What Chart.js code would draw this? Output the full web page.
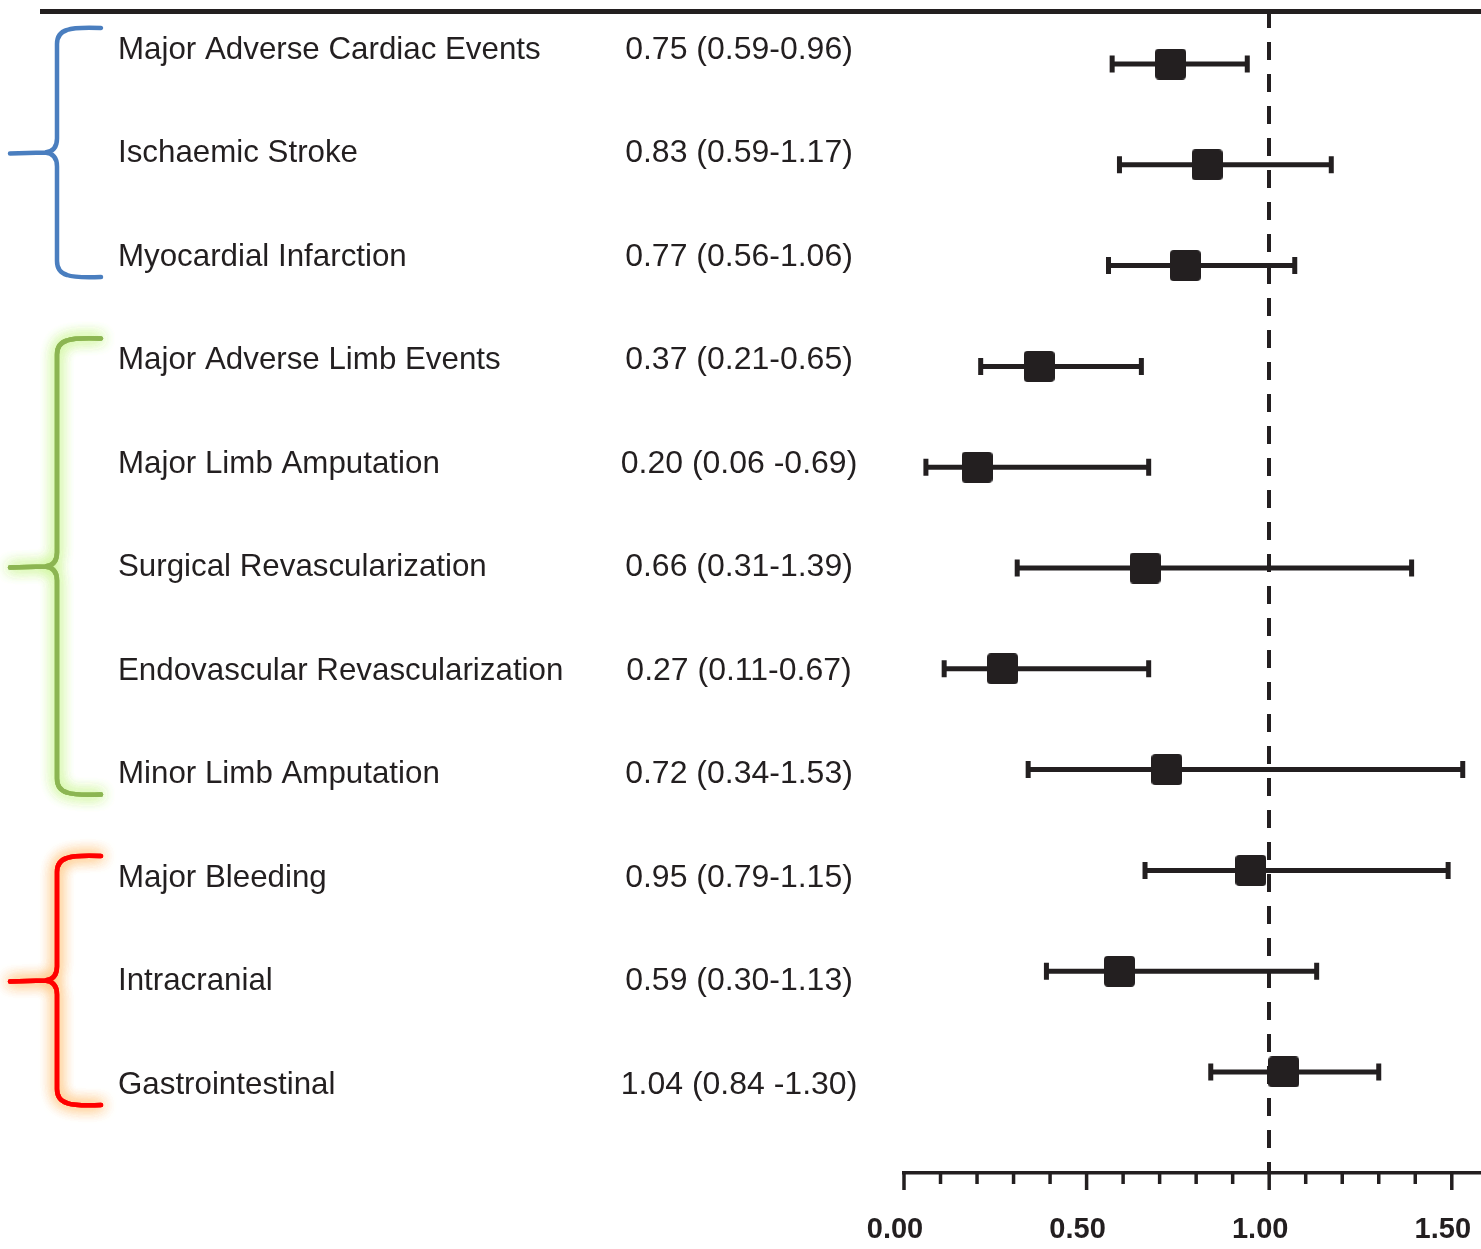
<!DOCTYPE html>
<html>
<head>
<meta charset="utf-8">
<script src="https://cdn.jsdelivr.net/npm/chart.js@4/dist/chart.umd.min.js"></script>
<style>
  html, body { margin: 0; padding: 0; background: #fff; overflow: hidden; }
  canvas { display: block; }
</style>
</head>
<body>
<canvas id="forest" width="1481" height="1249"></canvas>
<script>
"use strict";

// outcome rows, top to bottom
const OUTCOMES = [
  "Major Adverse Cardiac Events",
  "Ischaemic Stroke",
  "Myocardial Infarction",
  "Major Adverse Limb Events",
  "Major Limb Amputation",
  "Surgical Revascularization",
  "Endovascular Revascularization",
  "Minor Limb Amputation",
  "Major Bleeding",
  "Intracranial",
  "Gastrointestinal",
];
const HR_TEXT = [
  "0.75 (0.59-0.96)",
  "0.83 (0.59-1.17)",
  "0.77 (0.56-1.06)",
  "0.37 (0.21-0.65)",
  "0.20 (0.06 -0.69)",
  "0.66 (0.31-1.39)",
  "0.27 (0.11-0.67)",
  "0.72 (0.34-1.53)",
  "0.95 (0.79-1.15)",
  "0.59 (0.30-1.13)",
  "1.04 (0.84 -1.30)",
];
// plotted estimates and CI ends as drawn
const HR_EST = [0.73, 0.83, 0.77, 0.37, 0.20, 0.66, 0.27, 0.72, 0.95, 0.59, 1.04];
const CI_LOW = [0.57, 0.59, 0.56, 0.21, 0.06, 0.31, 0.11, 0.34, 0.66, 0.39, 0.84];
const CI_HIGH = [0.94, 1.17, 1.07, 0.65, 0.67, 1.39, 0.67, 1.53, 1.49, 1.13, 1.30];
const X_TICKS = [0, 0.1, 0.2, 0.3, 0.4, 0.5, 0.6, 0.7, 0.8, 0.9, 1.0, 1.1, 1.2, 1.3, 1.4, 1.5];
const X_LABELS = [0, 0.5, 1.0, 1.5];
const REF_LINE = 1.0;

// brace groups: [first row, last row]
const GROUPS = [
  { from: 0, to: 2,  color: "#4a7ebf", glow: null },
  { from: 3, to: 7,  color: "#8cb552", glow: "rgba(200,245,140,0.95)" },
  { from: 8, to: 10, color: "#ff0000", glow: "rgba(255,190,110,0.95)" },
];

const INK = "#231f20";
const FONT = "'Liberation Sans', Arial, Helvetica, sans-serif";

/* ── marker: small rounded square ─────────────────────────────── */
function roundedSquare(size, r) {
  const c = document.createElement("canvas");
  c.width = size; c.height = size;
  const g = c.getContext("2d");
  g.fillStyle = INK;
  g.beginPath();
  g.roundRect(0, 0, size, size, r);
  g.fill();
  return c;
}

/* ── brace drawn beside each outcome group ────────────────────── */
function drawBrace(ctx, top, bottom, color, glow) {
  const xr = 101, xv = 57, xt = 10;
  const mid = (top + bottom) / 2;
  ctx.save();
  ctx.strokeStyle = color;
  ctx.lineWidth = 4.5;
  ctx.lineCap = "round";
  ctx.lineJoin = "round";
  if (glow) { ctx.shadowColor = glow; ctx.shadowBlur = 14; }
  const path = () => {
    ctx.beginPath();
    ctx.moveTo(xr, top);
    ctx.quadraticCurveTo(xv + 18, top - 1, xv + 10, top + 2);
    ctx.quadraticCurveTo(xv, top + 5, xv, top + 16);
    ctx.lineTo(xv, mid - 14);
    ctx.quadraticCurveTo(xv, mid - 1, xv - 12, mid);
    ctx.lineTo(xt, mid + 1);
    ctx.moveTo(xv - 12, mid);
    ctx.quadraticCurveTo(xv, mid + 1, xv, mid + 14);
    ctx.lineTo(xv, bottom - 16);
    ctx.quadraticCurveTo(xv, bottom - 5, xv + 10, bottom - 2);
    ctx.quadraticCurveTo(xv + 18, bottom + 1, xr, bottom);
    ctx.stroke();
  };
  path();
  if (glow) { path(); path(); }
  ctx.restore();
}

const flatFit = s => { s.paddingLeft = 0; s.paddingRight = 0; s.paddingTop = 0; s.paddingBottom = 0; };

const forestPlugin = {
  id: "forest",
  beforeDatasetsDraw(chart) {
    const { ctx, chartArea: a, scales } = chart;
    const x = scales.x, y = scales.y;

    // rule across the top
    ctx.save();
    ctx.strokeStyle = INK;
    ctx.lineWidth = 5;
    ctx.beginPath();
    ctx.moveTo(40, 11.5);
    ctx.lineTo(chart.width, 11.5);
    ctx.stroke();

    // reference line at HR = 1
    const xr = Math.round(x.getPixelForValue(REF_LINE));
    ctx.lineWidth = 4;
    ctx.setLineDash([18, 14]);
    ctx.beginPath();
    ctx.moveTo(xr, 10);
    ctx.lineTo(xr, a.bottom);
    ctx.stroke();
    ctx.setLineDash([]);

    // confidence intervals with end caps
    HR_EST.forEach((_, i) => {
      const py = y.getPixelForValue(i);
      const x0 = x.getPixelForValue(CI_LOW[i]);
      const x1 = x.getPixelForValue(CI_HIGH[i]);
      ctx.lineWidth = 5;
      ctx.beginPath();
      ctx.moveTo(x0, py);
      ctx.lineTo(x1, py);
      ctx.stroke();
      ctx.beginPath();
      ctx.moveTo(x0, py - 8.5); ctx.lineTo(x0, py + 8.5);
      ctx.moveTo(x1, py - 8.5); ctx.lineTo(x1, py + 8.5);
      ctx.stroke();
    });

    // axis tick marks, long at labelled values
    ctx.lineWidth = 3.5;
    X_TICKS.forEach(v => {
      const px = x.getPixelForValue(v);
      const len = X_LABELS.some(m => Math.abs(m - v) < 1e-6) ? 17 : 11;
      ctx.beginPath();
      ctx.moveTo(px, a.bottom);
      ctx.lineTo(px, a.bottom + len);
      ctx.stroke();
    });
    ctx.restore();
  },
  afterDraw(chart) {
    const { ctx, scales } = chart;
    const yt = scales.yText;

    ctx.save();
    ctx.fillStyle = INK;
    ctx.textBaseline = "middle";
    OUTCOMES.forEach((name, i) => {
      const py = yt.getPixelForValue(i);
      ctx.font = "31.3px " + FONT;
      ctx.textAlign = "left";
      ctx.fillText(name, 118, py);
      ctx.font = "32px " + FONT;
      ctx.textAlign = "center";
      ctx.fillText(HR_TEXT[i], 739, py);
    });
    ctx.restore();

    GROUPS.forEach(g => {
      const top = yt.getPixelForValue(g.from) - 22;
      const bottom = yt.getPixelForValue(g.to) + 20;
      drawBrace(ctx, top, bottom, g.color, g.glow);
    });
  },
};

new Chart(document.getElementById("forest"), {
  type: "scatter",
  data: {
    datasets: [{
      label: "Hazard ratio",
      data: HR_EST.map((v, i) => ({ x: v, y: i })),
      pointStyle: roundedSquare(31, 4),
      radius: 16,
      hoverRadius: 16,
      backgroundColor: INK,
      borderWidth: 0,
    }],
  },
  options: {
    responsive: false,
    animation: false,
    layout: { autoPadding: false, padding: { left: 904, right: 0, top: 12, bottom: 0 } },
    plugins: { legend: { display: false }, tooltip: { enabled: false } },
    scales: {
      x: {
        type: "linear",
        min: 0,
        max: 1.58,
        grid: { display: false, drawTicks: false },
        border: { display: true, color: INK, width: 3.5 },
        afterBuildTicks: s => { s.ticks = X_LABELS.map(v => ({ value: v })); },
        // keep the axis box tight so the plot reaches the right edge
        afterFit: s => { s.height = 76; flatFit(s); },
        ticks: {
          padding: 0,
          labelOffset: -9,
          autoSkip: false,
          maxRotation: 0,
          color: INK,
          font: { family: FONT, size: 29, weight: "bold", lineHeight: "114px" },
          callback: v => Number(v).toFixed(2),
        },
      },
      y: {
        type: "linear",
        display: false,
        reverse: true,
        min: -0.516,
        max: 11.002,
        afterFit: flatFit,
      },
      yText: {
        type: "linear",
        axis: "y",
        display: false,
        reverse: true,
        min: -0.367,
        max: 10.85,
        afterFit: flatFit,
      },
    },
  },
  plugins: [forestPlugin],
});
</script>
</body>
</html>
